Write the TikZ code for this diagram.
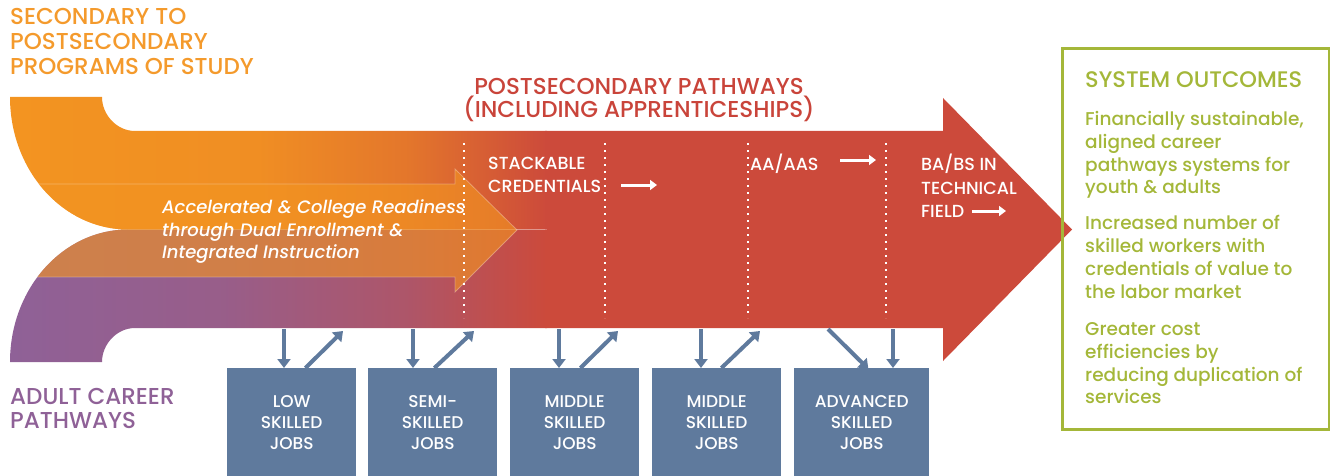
\documentclass[tikz,border=0pt]{standalone}
\usepackage{fontspec}
\setmainfont{Poppins}[UprightFont=* Medium, ItalicFont=* Medium Italic]
\usetikzlibrary{arrows.meta}
\definecolor{cOrange}{HTML}{F39421}
\definecolor{cRed}{HTML}{CC4A3B}
\definecolor{cPurple}{HTML}{8F6197}
\definecolor{cTitleRed}{HTML}{C9443A}
\definecolor{cTitleOr}{HTML}{F49A2C}
\definecolor{cGreen}{HTML}{A4B739}
\definecolor{cBlue}{HTML}{5F7A9D}
\pgfdeclarehorizontalshading{orangeband}{100bp}{color(0bp)=(cOrange); color(25bp)=(cOrange); color(48bp)=(cOrange!92!cRed); color(62bp)=(cOrange!60!cRed); color(75bp)=(cRed); color(100bp)=(cRed)}
\pgfdeclarehorizontalshading{purpleband}{100bp}{color(0bp)=(cPurple); color(25bp)=(cPurple); color(45bp)=(cPurple!85!cRed); color(62bp)=(cPurple!50!cRed); color(75bp)=(cRed); color(100bp)=(cRed)}
\begin{document}
\begin{tikzpicture}[x=1pt,y=-1pt,
  ttl/.style={anchor=base west,inner sep=0pt,font=\fontsize{23}{24}\selectfont},
  wtxt/.style={anchor=base west,inner sep=0pt,text=white,font=\fontsize{17.5}{18}\selectfont},
  itxt/.style={anchor=base west,inner sep=0pt,text=white,font=\fontsize{18}{20}\selectfont\itshape},
  jobbox/.style={fill=cBlue,anchor=north west,minimum height=108pt,inner sep=0pt,text=white,align=center,font=\fontsize{17}{21}\selectfont},
  barrow/.style={draw=cBlue,line width=4pt,-{Triangle[length=9pt,width=13pt]}},
  warrow/.style={draw=white,line width=3pt,-{Triangle[length=7pt,width=10pt]}},
  dotline/.style={draw=white,line width=2pt,dash pattern=on 2pt off 5pt},
  otxt/.style={anchor=base west,inner sep=0pt,text=cGreen,font=\fontsize{18.5}{20}\selectfont}
]
\useasboundingbox (0,0) rectangle (1330,476);

% orange band (secondary)
\shade[shading=orangeband] (10,97) -- (102,97) .. controls (102,115) and (117,131) .. (135,131) -- (547,131) -- (547,229.5) -- (128,229.5) .. controls (63,229.5) and (10,170.5) .. (10,97) -- cycle;
% purple band (adult)
\shade[shading=purpleband] (10,362) -- (102,362) .. controls (102,344) and (117,328) .. (135,328) -- (547,328) -- (547,229.5) -- (128,229.5) .. controls (63,229.5) and (10,288.5) .. (10,362) -- cycle;
% big red arrow
\fill[cRed] (545,131) -- (943,131) -- (943,98) -- (1072,229.5) -- (943,361) -- (943,328) -- (545,328) -- cycle;
\draw[white,opacity=0.25,line width=0.8pt] (128,229.5) -- (547,229.5);

% accelerated arrow overlay
\begin{scope}
\clip (10,97) .. controls (10,170.5) and (63,229.5) .. (128,229.5) .. controls (63,229.5) and (10,288.5) .. (10,362) -- (700,362) -- (700,97) -- cycle;
\fill[cOrange,fill opacity=0.62,draw=white,draw opacity=0.3,line width=0.8pt] (0,184) -- (455,184) -- (455,169) -- (517,230) -- (455,292) -- (455,277) -- (0,277) -- cycle;
\end{scope}

% dotted separators
\draw[dotline] (464,143) -- (464,318);
\draw[dotline] (605,143) -- (605,318);
\draw[dotline] (748,143) -- (748,318);
\draw[dotline] (886,143) -- (886,318);

% titles
\node[ttl,text=cTitleOr] (s1) at (10,25) {SECONDARY TO};
\node[ttl,text=cTitleOr] (s2) at (10,50) {POSTSECONDARY};
\node[ttl,text=cTitleOr] (s3) at (10,75) {PROGRAMS OF STUDY};
\node[ttl,text=cTitleRed,anchor=base] (p1) at (639,95) {POSTSECONDARY PATHWAYS};
\node[ttl,text=cTitleRed,anchor=base] (p2) at (639,118) {(INCLUDING APPRENTICESHIPS)};
\node[ttl,text=cPurple] (a1) at (10,404) {ADULT CAREER};
\node[ttl,text=cPurple] (a2) at (10,428) {PATHWAYS};

% italic text
\node[itxt] (i1) at (162,213) {Accelerated \& College Readiness};
\node[itxt] (i2) at (162,236) {through Dual Enrollment \&};
\node[itxt] (i3) at (162,258) {Integrated Instruction};

% red arrow texts
\node[wtxt] (c1) at (488,169) {STACKABLE};
\node[wtxt] (c2) at (488,192) {CREDENTIALS};
\node[wtxt] (c3) at (750,170) {AA/AAS};
\node[wtxt] (c4) at (921,170) {BA/BS IN};
\node[wtxt] (c5) at (921,194) {TECHNICAL};
\node[wtxt] (c6) at (921,217) {FIELD};
\coordinate (w1a) at (621,185); \coordinate (w1b) at (657,185);
\coordinate (w2a) at (840,160); \coordinate (w2b) at (876,160);
\coordinate (w3a) at (972,211); \coordinate (w3b) at (1006,211);
\draw[warrow] (w1a) -- (w1b);
\draw[warrow] (w2a) -- (w2b);
\draw[warrow] (w3a) -- (w3b);

% job boxes
\node[jobbox,minimum width=129pt] (j1) at (227,368) {LOW\\SKILLED\\JOBS};
\node[jobbox,minimum width=129pt] (j2) at (368,368) {SEMI-\\SKILLED\\JOBS};
\node[jobbox,minimum width=129pt] (j3) at (510,368) {MIDDLE\\SKILLED\\JOBS};
\node[jobbox,minimum width=129pt] (j4) at (652,368) {MIDDLE\\SKILLED\\JOBS};
\node[jobbox,minimum width=135pt] (j5) at (794,368) {ADVANCED\\SKILLED\\JOBS};

% arrows between pathway and jobs
\coordinate (d1) at (284,329); \coordinate (u1) at (343,331);
\coordinate (d2) at (413,329); \coordinate (u2) at (474,331);
\coordinate (d3) at (559,329); \coordinate (u3) at (618,331);
\coordinate (d4) at (701,329); \coordinate (u4) at (760,331);
\coordinate (d5) at (828,329); \coordinate (d6) at (893,329);
\draw[barrow] (d1) -- (d1 |- j1.north);
\draw[barrow] ([xshift=-51pt]j1.north east) -- (u1);
\draw[barrow] (d2) -- (d2 |- j2.north);
\draw[barrow] ([xshift=-63pt]j2.north east) -- (u2);
\draw[barrow] (d3) -- (d3 |- j3.north);
\draw[barrow] ([xshift=-59pt]j3.north east) -- (u3);
\draw[barrow] (d4) -- (d4 |- j4.north);
\draw[barrow] ([xshift=-60pt]j4.north east) -- (u4);
\draw[barrow] (d5) -- ([xshift=-61pt,yshift=-1pt]j5.north east);
\draw[barrow] (d6) -- (d6 |- j5.north);

% outcomes box
\node[draw=cGreen,line width=3pt,anchor=north west,minimum width=267pt,minimum height=381pt,inner sep=0pt] (ob) at (1061,47) {};
\node[otxt,font=\fontsize{22.5}{22}\selectfont] (o0) at (1085,88) {SYSTEM OUTCOMES};
\node[otxt] (o1) at (1085,125) {Financially sustainable,};
\node[otxt] (o2) at (1085,148) {aligned career};
\node[otxt] (o3) at (1085,171) {pathways systems for};
\node[otxt] (o4) at (1085,193) {youth \& adults};
\node[otxt] (o5) at (1085,229) {Increased number of};
\node[otxt] (o6) at (1085,252) {skilled workers with};
\node[otxt] (o7) at (1085,275) {credentials of value to};
\node[otxt] (o8) at (1085,298) {the labor market};
\node[otxt] (o9) at (1085,335) {Greater cost};
\node[otxt] (o10) at (1085,358) {efficiencies by};
\node[otxt] (o11) at (1085,381) {reducing duplication of};
\node[otxt] (o12) at (1085,403) {services};
\end{tikzpicture}
\end{document}
